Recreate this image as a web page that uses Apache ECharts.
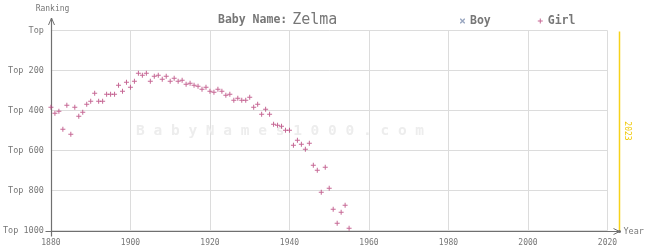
<!DOCTYPE html>
<html><head><meta charset="utf-8">
<script src="https://cdn.jsdelivr.net/npm/echarts@6/dist/echarts.min.js"></script>
<style>html,body{margin:0;padding:0;background:#fff}#c{width:645px;height:250px}</style>
</head><body><div id="c"></div>
<script>
const nameTitle = 'Zelma';
const years = [1880,1881,1882,1883,1884,1885,1886,1887,1888,1889,
  1890,1891,1892,1893,1894,1895,1896,1897,1898,1899,
  1900,1901,1902,1903,1904,1905,1906,1907,1908,1909,
  1910,1911,1912,1913,1914,1915,1916,1917,1918,1919,
  1920,1921,1922,1923,1924,1925,1926,1927,1928,1929,
  1930,1931,1932,1933,1934,1935,1936,1937,1938,1939,
  1940,1941,1942,1943,1944,1945,1946,1947,1948,1949,
  1950,1951,1952,1953,1954,1955];
const girlRanks = [384,414,404,494,374,519,384,429,409,369,
  354,314,354,354,319,319,319,274,304,259,
  284,254,214,224,214,254,229,224,244,229,
  254,239,254,249,269,264,274,279,294,284,
  304,309,294,304,324,319,349,339,349,349,
  334,384,369,419,394,419,469,474,479,499,
  499,574,549,569,594,564,674,699,809,684,
  789,894,964,909,874,989];
const boyYears = [];
const boyRanks = [];
const yearTicks = [1880,1900,1920,1940,1960,1980,2000,2020];
const rankTicks = [0,200,400,600,800,1000];
const currentYear = 2023;

const MONO = '"DejaVu Sans Mono", "Liberation Mono", monospace';
const plusPath = 'path://M0,2H5V3H0Z M2,0H3V5H2Z';
const crossPath = 'path://M0,0L1,0L5,4L5,5L4,5L0,1Z M4,0L5,0L5,1L1,5L0,5L0,4Z';

const chart = echarts.init(document.getElementById('c'), null, {renderer:'canvas'});
chart.setOption({
  animation:false,
  backgroundColor:'#fff',
  title:{
    text:'{a|Baby Name:} {b|' + nameTitle + '}',
    left:213, top:6,
    textStyle:{fontWeight:'normal',rich:{
      a:{fontFamily:MONO,fontSize:11.5,fontWeight:'bold',color:'#777'},
      b:{fontFamily:MONO,fontSize:15,fontWeight:'normal',color:'#777'}
    }}
  },
  legend:{
    left:455, top:10, itemGap:47, itemWidth:5, itemHeight:5,
    textStyle:{fontFamily:MONO,fontSize:11.5,fontWeight:'bold',color:'#777'},
    data:[{name:'Boy',icon:crossPath},{name:'Girl',icon:plusPath}]
  },
  grid:{left:47.5,right:37.5,top:30.5,bottom:19.5,containLabel:false},
  xAxis:{
    type:'value', min:yearTicks[0], max:yearTicks[yearTicks.length-1], interval:20,
    axisLine:{show:false}, axisTick:{show:false},
    axisLabel:{fontFamily:MONO,fontSize:8,color:'#777',margin:8,showMaxLabel:true,formatter:v=>String(v)},
    splitLine:{show:true,lineStyle:{color:'#dcdcdc',width:1}}
  },
  yAxis:{
    type:'value', inverse:true, min:rankTicks[0], max:rankTicks[rankTicks.length-1], interval:200,
    axisLine:{show:false}, axisTick:{show:false},
    axisLabel:{fontFamily:MONO,fontSize:8.5,color:'#777',margin:7,
      formatter:v=> v===0 ? 'Top' : 'Top ' + v},
    splitLine:{show:true,lineStyle:{color:'#dcdcdc',width:1}}
  },
  series:[
    {name:'Boy',type:'scatter',symbol:crossPath,symbolSize:5,itemStyle:{color:'#8090b0'},
      data:boyYears.map((y,i)=>[y,boyRanks[i]])},
    {name:'Girl',type:'scatter',symbol:plusPath,symbolSize:5,itemStyle:{color:'#b8427a'},
      data:years.map((y,i)=>[y,girlRanks[i]])}
  ]
});

const p0 = chart.convertToPixel({gridIndex:0},[yearTicks[0], rankTicks[rankTicks.length-1]]);
const pTop = chart.convertToPixel({gridIndex:0},[yearTicks[0], rankTicks[0]]);
const pCur = chart.convertToPixel({gridIndex:0},[currentYear, rankTicks[0]]);
const ox = Math.round(p0[0])+0.5, oy = Math.round(p0[1])+0.5;
const cx = Math.round(pCur[0])+0.5;
const axisColor = '#707070';
chart.setOption({graphic:[
  {type:'text',left:136,top:124,silent:true,z:0,
    style:{text:'B a b y N a m e s 1 0 0 0 . c o m',font:'bold 14.5px '+MONO,fill:'#ededed'}},
  {type:'line',shape:{x1:cx,y1:Math.round(pTop[1])+0.5,x2:cx,y2:oy},style:{stroke:'#f7d21a',lineWidth:1.5}},
  {type:'text',x:cx+8,y:(pTop[1]+oy)/2,rotation:-Math.PI/2,
    style:{text:String(currentYear),font:'8px '+MONO,fill:'#f0c800',align:'center',verticalAlign:'middle'}},
  {type:'line',shape:{x1:ox,y1:oy+5,x2:ox,y2:18},style:{stroke:axisColor,lineWidth:1.2}},
  {type:'polyline',shape:{points:[[ox-3,25],[ox,18],[ox+3,25]]},style:{stroke:axisColor,lineWidth:1,fill:null}},
  {type:'line',shape:{x1:ox-6,y1:oy,x2:cx+1,y2:oy},style:{stroke:axisColor,lineWidth:1.2}},
  {type:'polyline',shape:{points:[[cx-6,oy-3],[cx,oy],[cx-6,oy+3]]},style:{stroke:axisColor,lineWidth:1,fill:null}},
  {type:'circle',shape:{cx:cx,cy:oy,r:1.5},style:{fill:axisColor}},
  {type:'text',x:ox+1,y:9,style:{text:'Ranking',font:'8px '+MONO,fill:'#777',align:'center',verticalAlign:'middle'}},
  {type:'text',x:cx+4,y:oy,style:{text:'Year',font:'8.5px '+MONO,fill:'#777',align:'left',verticalAlign:'middle'}}
]});
</script></body></html>
